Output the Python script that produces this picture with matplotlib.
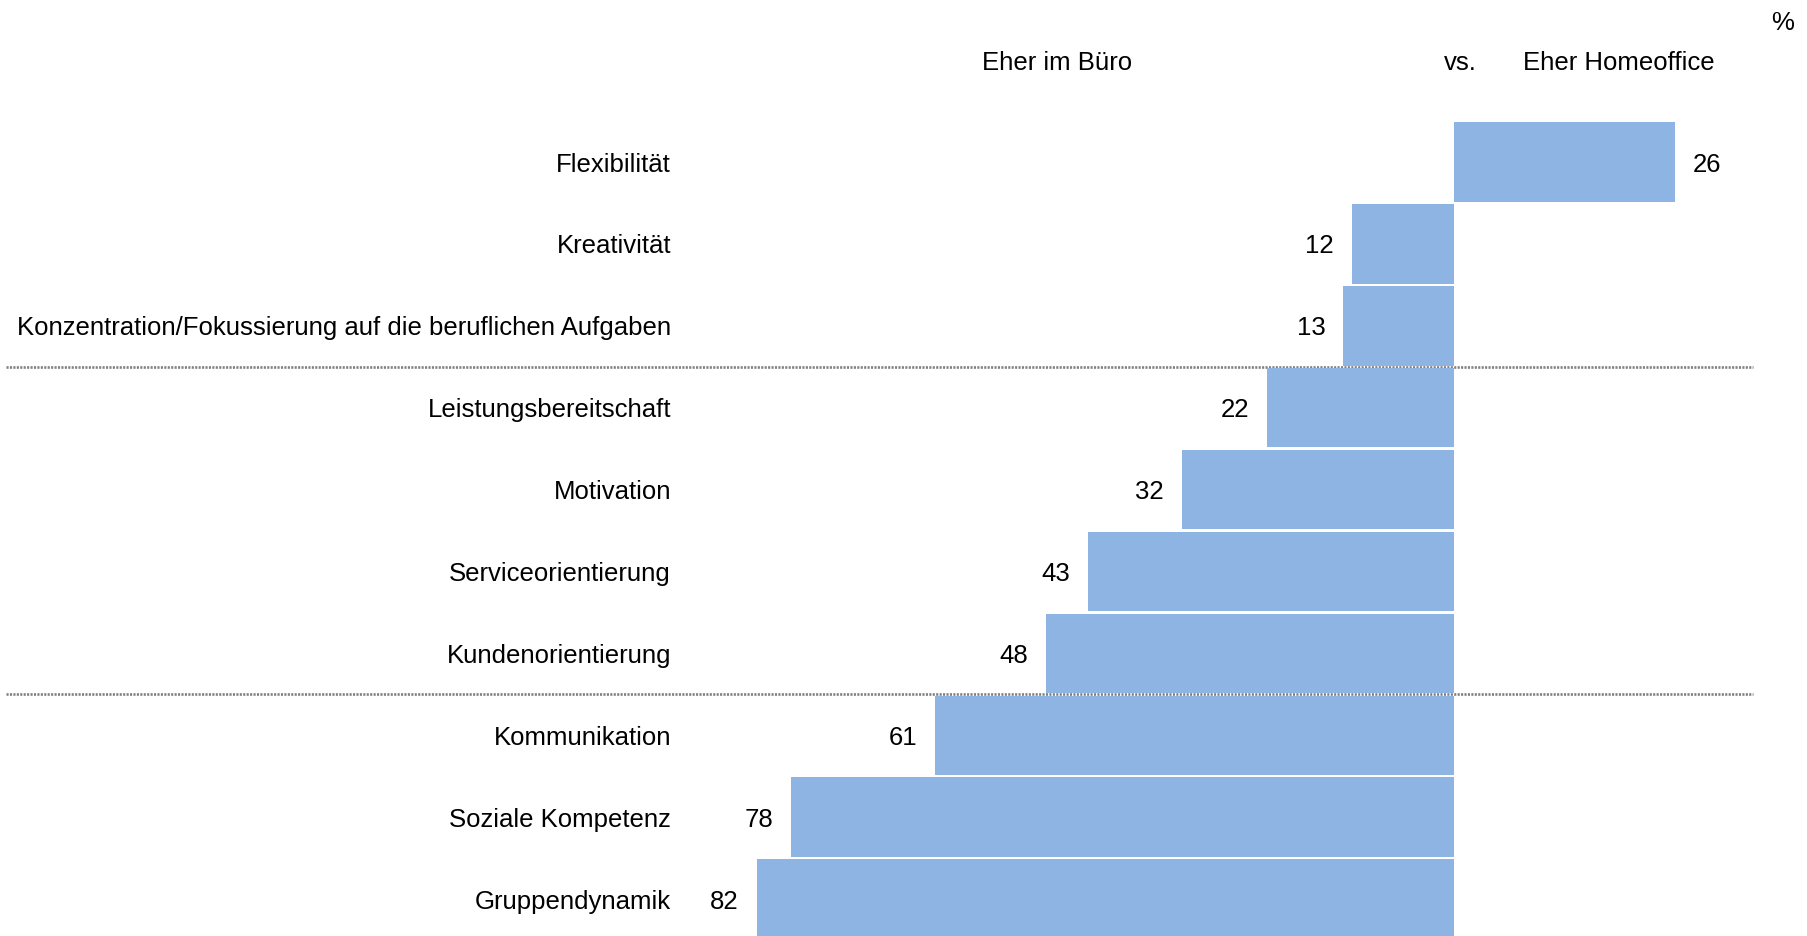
import matplotlib
matplotlib.use("Agg")
import matplotlib.pyplot as plt

categories = [
    "Flexibilität",
    "Kreativität",
    "Konzentration/Fokussierung auf die beruflichen Aufgaben",
    "Leistungsbereitschaft",
    "Motivation",
    "Serviceorientierung",
    "Kundenorientierung",
    "Kommunikation",
    "Soziale Kompetenz",
    "Gruppendynamik",
]
# positive = "Eher Homeoffice", negative = "Eher im Büro"
values = [26, -12, -13, -22, -32, -43, -48, -61, -78, -82]
header_left = "Eher im Büro"
header_mid = "vs."
header_right = "Eher Homeoffice"
unit_label = "%"
group_breaks = [2.5, 6.5]

plt.rcParams["font.family"] = ["Liberation Sans", "DejaVu Sans"]
FS = 18.5
BAR_COLOR = "#8EB4E3"

fig = plt.figure(figsize=(18.08, 9.36), dpi=100)
ax = fig.add_axes([0, 0, 1, 1])
ax.set_axis_off()

PX_PER_UNIT = 8.5
X0 = 1454.0
ROW_PX = 81.9
Y0 = 162.0
ax.set_xlim(-X0 / PX_PER_UNIT, (1808 - X0) / PX_PER_UNIT)
ax.set_ylim((936 - Y0) / ROW_PX, -Y0 / ROW_PX)

ys = list(range(len(categories)))
ax.barh(ys, values, height=0.97, color=BAR_COLOR, edgecolor="none", zorder=3)

# separators
for yb in group_breaks:
    ax.plot([(6 - X0) / PX_PER_UNIT, (1753 - X0) / PX_PER_UNIT], [yb, yb],
            color="#808080", lw=1.9, zorder=1, linestyle=(0, (0.8, 0.5)),
            dash_capstyle="butt")

label_x = (671 - X0) / PX_PER_UNIT
for y, cat, v in zip(ys, categories, values):
    ax.text(label_x, y, cat, ha="right", va="center_baseline", fontsize=FS, color="black")
    if v >= 0:
        ax.annotate(f"{abs(v)}", (v, y), xytext=(13, 0), textcoords="offset points",
                    ha="left", va="center_baseline", fontsize=FS)
    else:
        ax.annotate(f"{abs(v)}", (v, y), xytext=(-13, 0), textcoords="offset points",
                    ha="right", va="center_baseline", fontsize=FS)

hy = (61 - Y0) / ROW_PX
ax.text((1057 - X0) / PX_PER_UNIT, hy, header_left, ha="center", va="center_baseline", fontsize=FS)
ax.text((1460 - X0) / PX_PER_UNIT, hy, header_mid, ha="center", va="center_baseline", fontsize=FS)
ax.text((1619 - X0) / PX_PER_UNIT, hy, header_right, ha="center", va="center_baseline", fontsize=FS)
ax.text((1783 - X0) / PX_PER_UNIT, (20 - Y0) / ROW_PX, unit_label, ha="center", va="center_baseline", fontsize=FS)

fig.savefig("out.png", dpi=100, facecolor="white")
